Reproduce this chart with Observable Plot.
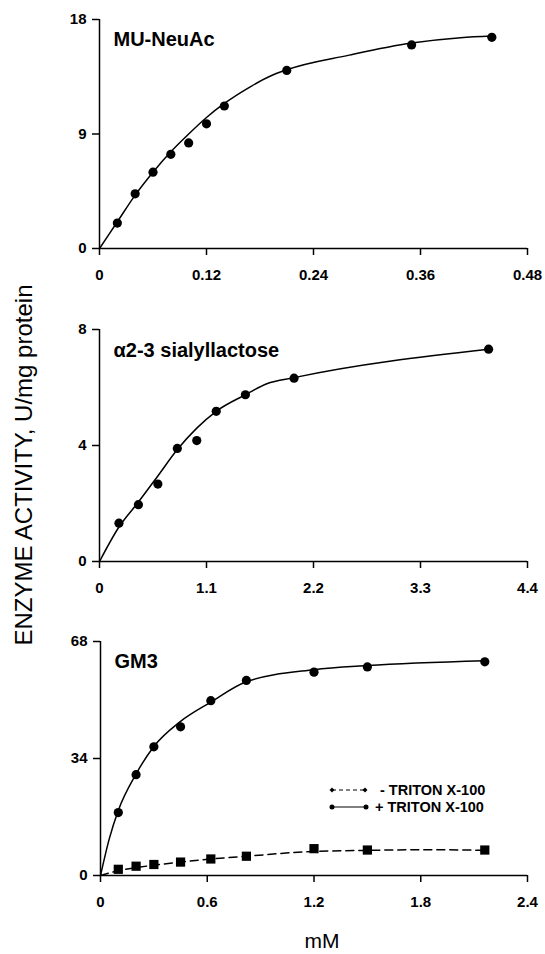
<!DOCTYPE html>
<html><head><meta charset="utf-8">
<script src="https://cdn.jsdelivr.net/npm/d3@7"></script>
<script src="https://cdn.jsdelivr.net/npm/@observablehq/plot@0.6"></script>
<style>
body{margin:0;background:#fff;}
#root{position:relative;width:545px;height:954px;font-family:"Liberation Sans",Arial,sans-serif;}
.panel{position:absolute;left:0;}
#overlay{position:absolute;left:0;top:0;}
</style></head>
<body><div id="root"></div>
<script>
// Panel 1: MU-NeuAc
const muX = [0.02,0.04,0.06,0.08,0.10,0.12,0.14,0.21,0.35,0.44];
const muY = [2.0,4.3,6.0,7.4,8.3,9.8,11.2,14.0,16.0,16.6];
const muFitX = [0,0.02,0.04,0.06,0.08,0.10,0.12,0.14,0.17,0.19,0.21,0.28,0.35,0.405,0.44];
const muFitY = [0,2.1,4.2,6.0,7.6,9.0,10.3,11.4,12.75,13.5,14.05,15.2,16.15,16.57,16.7];
const muXTicks = [0,0.12,0.24,0.36,0.48];
const muYTicks = [0,9,18];

// Panel 2: α2-3 sialyllactose
const siaX = [0.2,0.4,0.6,0.8,1.0,1.2,1.5,2.0,4.0];
const siaY = [1.32,1.96,2.67,3.9,4.17,5.18,5.75,6.32,7.32];
const siaFitX = [0,0.2,0.4,0.6,0.8,1.0,1.2,1.5,1.72,2.0,4.0];
const siaFitY = [0,1.19,2.05,2.95,3.86,4.6,5.18,5.75,6.13,6.34,7.32];
const siaXTicks = [0,1.1,2.2,3.3,4.4];
const siaYTicks = [0,4,8];

// Panel 3: GM3
const gmX = [0.1,0.2,0.3,0.45,0.62,0.82,1.2,1.5,2.16];
const gmPlus = [18.3,29.3,37.4,43.2,50.8,56.7,59.1,60.6,62.1];
const gmMinus = [1.8,2.7,3.2,3.9,4.8,5.6,7.8,7.4,7.4];
const gmPlusFitX = [0,0.05,0.1,0.2,0.3,0.45,0.62,0.82,1.2,1.5,2.16];
const gmPlusFitY = [0,10.8,18.9,29.5,37.5,44.8,50.4,56.3,59.8,61.0,62.4];
const gmMinusFitX = [0,0.1,0.2,0.3,0.45,0.62,0.82,1.2,1.5,1.85,2.16];
const gmMinusFitY = [0,1.4,2.3,3.0,3.9,4.8,5.6,7.0,7.3,7.5,7.3];
const gmXTicks = [0,0.6,1.2,1.8,2.4];
const gmYTicks = [0,34,68];

const legendLabels = ["- TRITON X-100", "+ TRITON X-100"];
const yTitle = "ENZYME ACTIVITY, U/mg protein";
const xTitle = "mM";

const zip = (xs, ys) => xs.map((x, i) => ({x, y: ys[i]}));
const root = document.getElementById("root");

function panel({top, height, mt, mb, ml, xDomain, yDomain, xTicks, yTicks, label, labelDy, series}) {
  const marks = [
    Plot.ruleY([0], {stroke: "black", strokeWidth: 1.5}),
    Plot.ruleX([0], {stroke: "black", strokeWidth: 1.5}),
    Plot.axisX({ticks: xTicks, tickSize: 7, tickPadding: 14, tickFormat: d => String(d), label: null,
      fontSize: 15, fontWeight: "bold", strokeWidth: 1.5}),
    Plot.axisY({ticks: yTicks, tickSize: 7, tickPadding: 6, tickFormat: d => String(d), label: null,
      fontSize: 15, fontWeight: "bold", strokeWidth: 1.5}),
  ];
  for (const s of series) {
    marks.push(Plot.line(s.fit, {x: "x", y: "y", curve: "monotone-x", stroke: "black", strokeWidth: 1.5,
      strokeDasharray: s.dash || null}));
    if (s.symbol === "square")
      marks.push(Plot.dot(s.pts, {x: "x", y: "y", symbol: "square", r: 5.2, fill: "black", stroke: "none"}));
    else
      marks.push(Plot.dot(s.pts, {x: "x", y: "y", r: 4.6, fill: "black", stroke: "none"}));
  }
  marks.push(Plot.text([label], {frameAnchor: "top-left", textAnchor: "start", lineAnchor: "top",
    dx: 14, dy: labelDy, fontSize: 20, fontWeight: "bold", fill: "black"}));
  const svg = Plot.plot({
    width: 545, height, marginTop: mt, marginBottom: mb, marginLeft: ml, marginRight: 18,
    x: {domain: xDomain}, y: {domain: yDomain},
    style: {background: "transparent", color: "black", fontFamily: "'Liberation Sans', Arial, sans-serif",
      fontSize: "15px", fontWeight: "bold", overflow: "visible"},
    marks
  });
  svg.classList.add("panel");
  svg.style.top = top + "px";
  root.appendChild(svg);
}

panel({top: 0, height: 300, mt: 19, mb: 52, ml: 99, xDomain: [0, 0.48], yDomain: [0, 18],
  xTicks: muXTicks, yTicks: muYTicks, label: "MU-NeuAc", labelDy: 12,
  series: [{fit: zip(muFitX, muFitY), pts: zip(muX, muY)}]});

panel({top: 300, height: 300, mt: 29, mb: 39, ml: 99, xDomain: [0, 4.4], yDomain: [0, 8],
  xTicks: siaXTicks, yTicks: siaYTicks, label: "α2-3 sialyllactose", labelDy: 13,
  series: [{fit: zip(siaFitX, siaFitY), pts: zip(siaX, siaY)}]});

panel({top: 600, height: 320, mt: 41, mb: 45, ml: 100, xDomain: [0, 2.4], yDomain: [0, 68],
  xTicks: gmXTicks, yTicks: gmYTicks, label: "GM3", labelDy: 12,
  series: [
    {fit: zip(gmPlusFitX, gmPlusFitY), pts: zip(gmX, gmPlus)},
    {fit: zip(gmMinusFitX, gmMinusFitY), pts: zip(gmX, gmMinus), symbol: "square", dash: "8,5"}
  ]});

// Overlay: legend and axis titles
const ns = "http://www.w3.org/2000/svg";
const ov = document.createElementNS(ns, "svg");
ov.setAttribute("id", "overlay");
ov.setAttribute("width", 545); ov.setAttribute("height", 954);
ov.setAttribute("font-family", "'Liberation Sans', Arial, sans-serif");
function el(tag, attrs, text) {
  const e = document.createElementNS(ns, tag);
  for (const k in attrs) e.setAttribute(k, attrs[k]);
  if (text != null) e.textContent = text;
  ov.appendChild(e); return e;
}
// legend row 1 (dashed, diamonds)
el("line", {x1: 332, y1: 790, x2: 365, y2: 790, stroke: "black", "stroke-width": 1.2, "stroke-dasharray": "4,3"});
for (const cx of [332, 365]) el("path", {d: `M${cx},${787.5}L${cx+2.5},790L${cx},${792.5}L${cx-2.5},790Z`, fill: "black"});
el("text", {x: 380, y: 795, "font-size": 14.5, "font-weight": "bold", fill: "black"}, legendLabels[0]);
// legend row 2 (solid, dots)
el("line", {x1: 332, y1: 807, x2: 366, y2: 807, stroke: "black", "stroke-width": 1.2});
for (const cx of [332, 366]) el("circle", {cx, cy: 807, r: 2.5, fill: "black"});
el("text", {x: 375, y: 812, "font-size": 14.5, "font-weight": "bold", fill: "black"}, legendLabels[1]);
// axis titles
el("text", {transform: "translate(32,465) rotate(-90)", "text-anchor": "middle", "font-size": 24, fill: "black"}, yTitle);
el("text", {x: 322, y: 948, "text-anchor": "middle", "font-size": 21, fill: "black"}, xTitle);
root.appendChild(ov);
</script>
</body></html>
